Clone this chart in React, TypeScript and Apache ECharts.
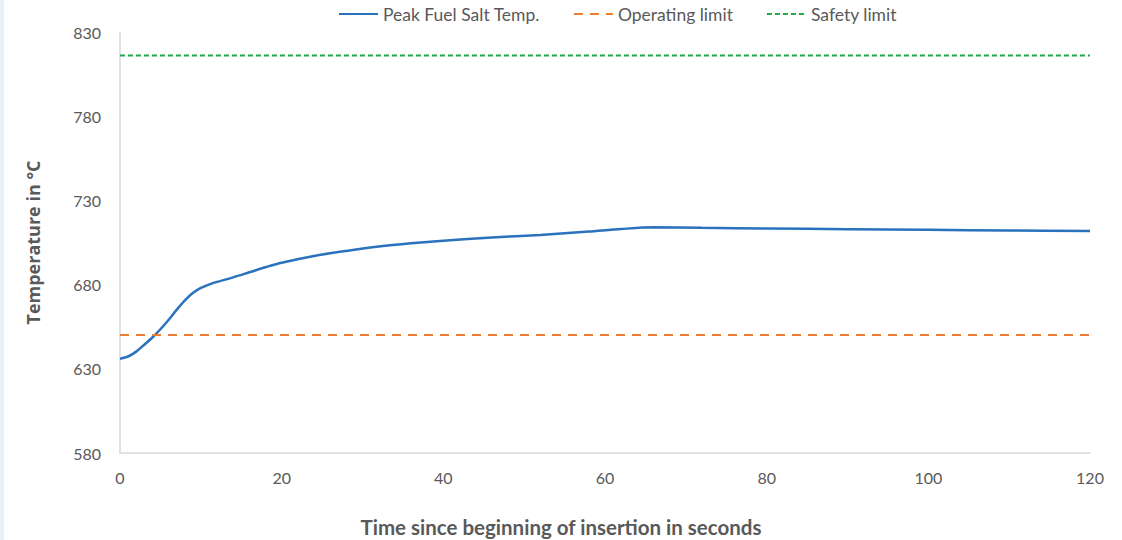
import React, { useEffect, useRef } from "react";
import * as echarts from "echarts";

// Time since beginning of insertion (s)
const timeSeconds = [
  0, 1, 2, 3, 4, 5, 6, 7, 8, 9, 10, 11, 12, 14, 16, 18, 20, 24, 28, 32, 36, 40,
  46, 52, 58, 62, 66, 72, 80, 90, 100, 110, 120,
];
// Peak fuel salt temperature (°C)
const peakFuelSaltTemp = [
  636, 637.3, 640.2, 644.3, 648.6, 653.5, 659, 665, 670.5, 675, 678, 680,
  681.6, 684.3, 687.3, 690.3, 693, 697, 700, 702.6, 704.5, 706, 708, 709.5,
  711.5, 713, 714, 713.7, 713.3, 712.9, 712.5, 712.1, 711.8,
];
const operatingLimit = 650;
const safetyLimit = 816;
const limitSpan = [0, 120];

const yTicks = { min: 580, max: 830, interval: 50 };
const xTicks = { min: 0, max: 120, interval: 20 };

const FONT = "Lato, 'Open Sans', sans-serif";
const TEXT = "#595959";

export default function App() {
  const ref = useRef<HTMLDivElement>(null);

  useEffect(() => {
    if (!ref.current) return;
    const chart = echarts.init(ref.current, null, { renderer: "svg" });
    chart.setOption({
      animation: false,
      backgroundColor: "#ffffff",
      textStyle: { fontFamily: FONT },
      legend: {
        top: 0,
        left: 333,
        itemWidth: 39,
        itemHeight: 10,
        itemGap: 33,
        itemStyle: { opacity: 0 },
        textStyle: { fontSize: 17.5, color: TEXT, fontFamily: FONT },
        data: ["Peak Fuel Salt Temp.", "Operating limit", "Safety limit"],
      },
      grid: { left: 120, right: 32, top: 32, bottom: 87 },
      xAxis: {
        type: "value",
        min: xTicks.min,
        max: xTicks.max,
        interval: xTicks.interval,
        axisLine: { show: true, lineStyle: { color: "#d9d9d9", width: 1.5 } },
        axisTick: { show: false },
        splitLine: { show: false },
        axisLabel: { color: TEXT, fontSize: 16, margin: 16, fontFamily: FONT },
      },
      yAxis: {
        type: "value",
        min: yTicks.min,
        max: yTicks.max,
        interval: yTicks.interval,
        name: "Temperature in °C",
        nameLocation: "middle",
        nameGap: 78,
        nameTextStyle: {
          color: TEXT,
          fontSize: 18,
          fontWeight: "bold",
          fontFamily: "'Open Sans', Lato, sans-serif",
        },
        axisLine: { show: true, lineStyle: { color: "#d9d9d9", width: 1.5 } },
        axisTick: { show: false },
        splitLine: { show: false },
        axisLabel: { color: TEXT, fontSize: 16, margin: 19, fontFamily: FONT },
      },
      graphic: [
        { type: "rect", left: 0, top: 0, shape: { width: 4, height: 540 }, style: { fill: "#eaf0f8" } },
        {
          type: "text",
          x: 561,
          y: 527,
          style: {
            text: "Time since beginning of insertion in seconds",
            fill: TEXT,
            fontSize: 20.5,
            fontWeight: "bold",
            fontFamily: FONT,
            align: "center",
            verticalAlign: "middle",
          },
        },
      ],
      series: [
        {
          name: "Peak Fuel Salt Temp.",
          type: "line",
          smooth: 0.3,
          symbol: "none",
          data: timeSeconds.map((t, i) => [t, peakFuelSaltTemp[i]]),
          lineStyle: { color: "#2a72bd", width: 2.5 },
          itemStyle: { color: "#2a72bd" },
          z: 3,
        },
        {
          name: "Operating limit",
          type: "line",
          symbol: "none",
          data: limitSpan.map((t) => [t, operatingLimit]),
          lineStyle: { color: "#ed7d31", width: 2, type: [9, 7] },
          itemStyle: { color: "#ed7d31" },
        },
        {
          name: "Safety limit",
          type: "line",
          symbol: "none",
          data: limitSpan.map((t) => [t, safetyLimit]),
          lineStyle: { color: "#1fa84a", width: 2, type: [5, 3] },
          itemStyle: { color: "#1fa84a" },
        },
      ],
    });
    return () => chart.dispose();
  }, []);

  return (
    <div
      ref={ref}
      style={{ position: "fixed", left: 0, top: 0, width: 1122, height: 540 }}
    />
  );
}
